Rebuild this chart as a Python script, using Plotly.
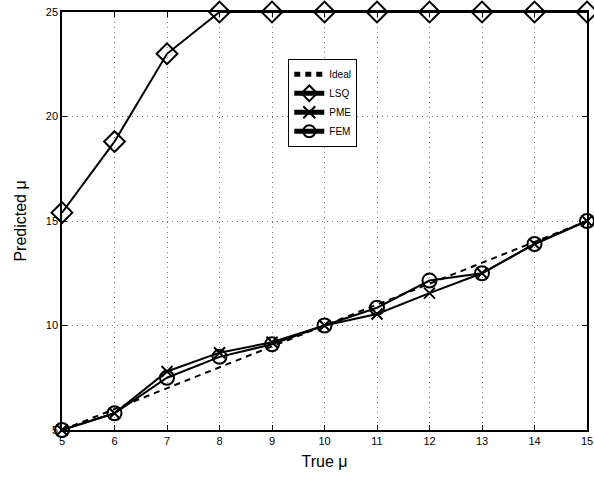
import plotly.graph_objects as go

true_mu = [5, 6, 7, 8, 9, 10, 11, 12, 13, 14, 15]
ideal = [5, 6, 7, 8, 9, 10, 11, 12, 13, 14, 15]
lsq = [15.4, 18.8, 23.0, 25, 25, 25, 25, 25, 25, 25, 25]
pme = [5.0, 5.8, 7.8, 8.7, 9.2, 10.0, 10.55, 11.55, 12.5, 13.9, 15.0]
fem = [5.0, 5.8, 7.5, 8.5, 9.1, 10.0, 10.85, 12.15, 12.5, 13.9, 15.0]

x_ticks = [5, 6, 7, 8, 9, 10, 11, 12, 13, 14, 15]
y_ticks = [5, 10, 15, 20, 25]

fig = go.Figure()
fig.add_trace(go.Scatter(x=true_mu, y=ideal, name="Ideal", mode="lines",
                         line=dict(color="black", width=2, dash="6px,5px"), cliponaxis=False))
fig.add_trace(go.Scatter(x=true_mu, y=lsq, name="LSQ", mode="lines+markers",
                         line=dict(color="black", width=2),
                         marker=dict(symbol="diamond-open", size=16, color="black", line=dict(width=2)),
                         cliponaxis=False))
fig.add_trace(go.Scatter(x=true_mu, y=pme, name="PME", mode="lines+markers",
                         line=dict(color="black", width=2),
                         marker=dict(symbol="x-thin-open", size=11, color="black", line=dict(width=2)),
                         cliponaxis=False))
fig.add_trace(go.Scatter(x=true_mu, y=fem, name="FEM", mode="lines+markers",
                         line=dict(color="black", width=2),
                         marker=dict(symbol="circle-open", size=14, color="black", line=dict(width=2)),
                         cliponaxis=False))

axis_common = dict(showline=True, linecolor="black", linewidth=1.5, mirror="ticks",
                   ticks="inside", ticklen=5, tickcolor="black",
                   showgrid=True, gridcolor="#777777", griddash="1px,4px", gridwidth=1,
                   zeroline=False, tickfont=dict(size=11, color="black"))

fig.update_xaxes(range=[5, 15], tickvals=x_ticks, ticklabeloverflow="allow",
                 title=dict(text="True μ", font=dict(size=16, color="black"), standoff=10),
                 **axis_common)
fig.update_yaxes(range=[5, 25], tickvals=y_ticks,
                 title=dict(text="Predicted μ", font=dict(size=16, color="black"), standoff=15),
                 **axis_common)

fig.update_layout(
    width=594, height=478,
    margin=dict(l=62, r=1, t=12, b=48),
    paper_bgcolor="white", plot_bgcolor="white",
    font=dict(family="Liberation Sans, Arial, sans-serif", color="black"),
    showlegend=True,
    legend=dict(x=0.431, y=0.888, xanchor="left", yanchor="top",
                bgcolor="white", bordercolor="black", borderwidth=1,
                font=dict(size=10), itemwidth=30, tracegroupgap=0,
                itemsizing="constant"),
)

fig.write_html("out.html")
